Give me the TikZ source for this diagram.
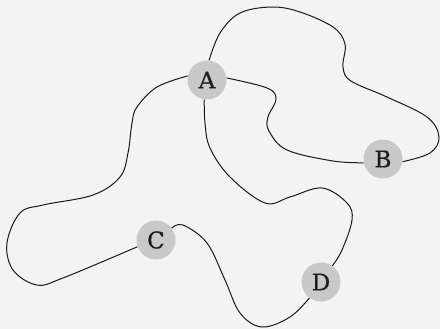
\documentclass[tikz,border=0pt]{standalone}
\usepackage{fontspec}
\setmainfont{DejaVu Serif}
\newfontfamily\labelfont[FakeBold=0.8]{DejaVu Serif}
\usetikzlibrary{backgrounds}
\definecolor{bgcol}{HTML}{F3F3F3}
\definecolor{nodecol}{HTML}{C9C9CA}
\definecolor{txtcol}{HTML}{1E1E1E}
\begin{document}
\begin{tikzpicture}[x=1pt,y=-1pt,
  vertex/.style={circle,fill=nodecol,draw=none,minimum size=39pt,inner sep=0pt,
    text=txtcol,font=\labelfont\fontsize{23}{23}\selectfont},
  wire/.style={draw=black!90,line width=1pt,smooth,tension=0.6}]
\useasboundingbox (0,0) rectangle (440,329);
\node[vertex] (A) at (207,80) {A};
\node[vertex] (B) at (383,159) {B};
\node[vertex] (C) at (156,240) {C};
\node[vertex] (D) at (321,282) {D};
\begin{scope}[on background layer]
\fill[bgcol] (0,0) rectangle (440,329);
\draw[wire] plot coordinates {(A.84) (220,33) (240,13) (272,7) (300,12) (333,27) (345,44) (343,67) (351,81) (387,97) (427,117) (439,137) (430,153) (B.-8)};
\draw[wire] plot coordinates {(A.6) (267,88) (276,99) (268,117) (269,131) (287,150) (333,161) (B.191)};
\draw[wire] plot coordinates {(A.168) (157,87) (137,107) (132,123) (128,153) (120,177) (93,195) (43,205) (20,213) (7,243) (13,270) (37,285) (63,278) (C.200)};
\draw[wire] plot coordinates {(A.262) (205,123) (210,148) (230,177) (265,203) (290,197) (322,188) (347,203) (352,220) (342,250) (D.55)};
\draw[wire] plot coordinates {(C.37) (183,225) (207,243) (225,280) (240,313) (262,327) (290,317) (D.234)};
\end{scope}
\end{tikzpicture}
\end{document}
